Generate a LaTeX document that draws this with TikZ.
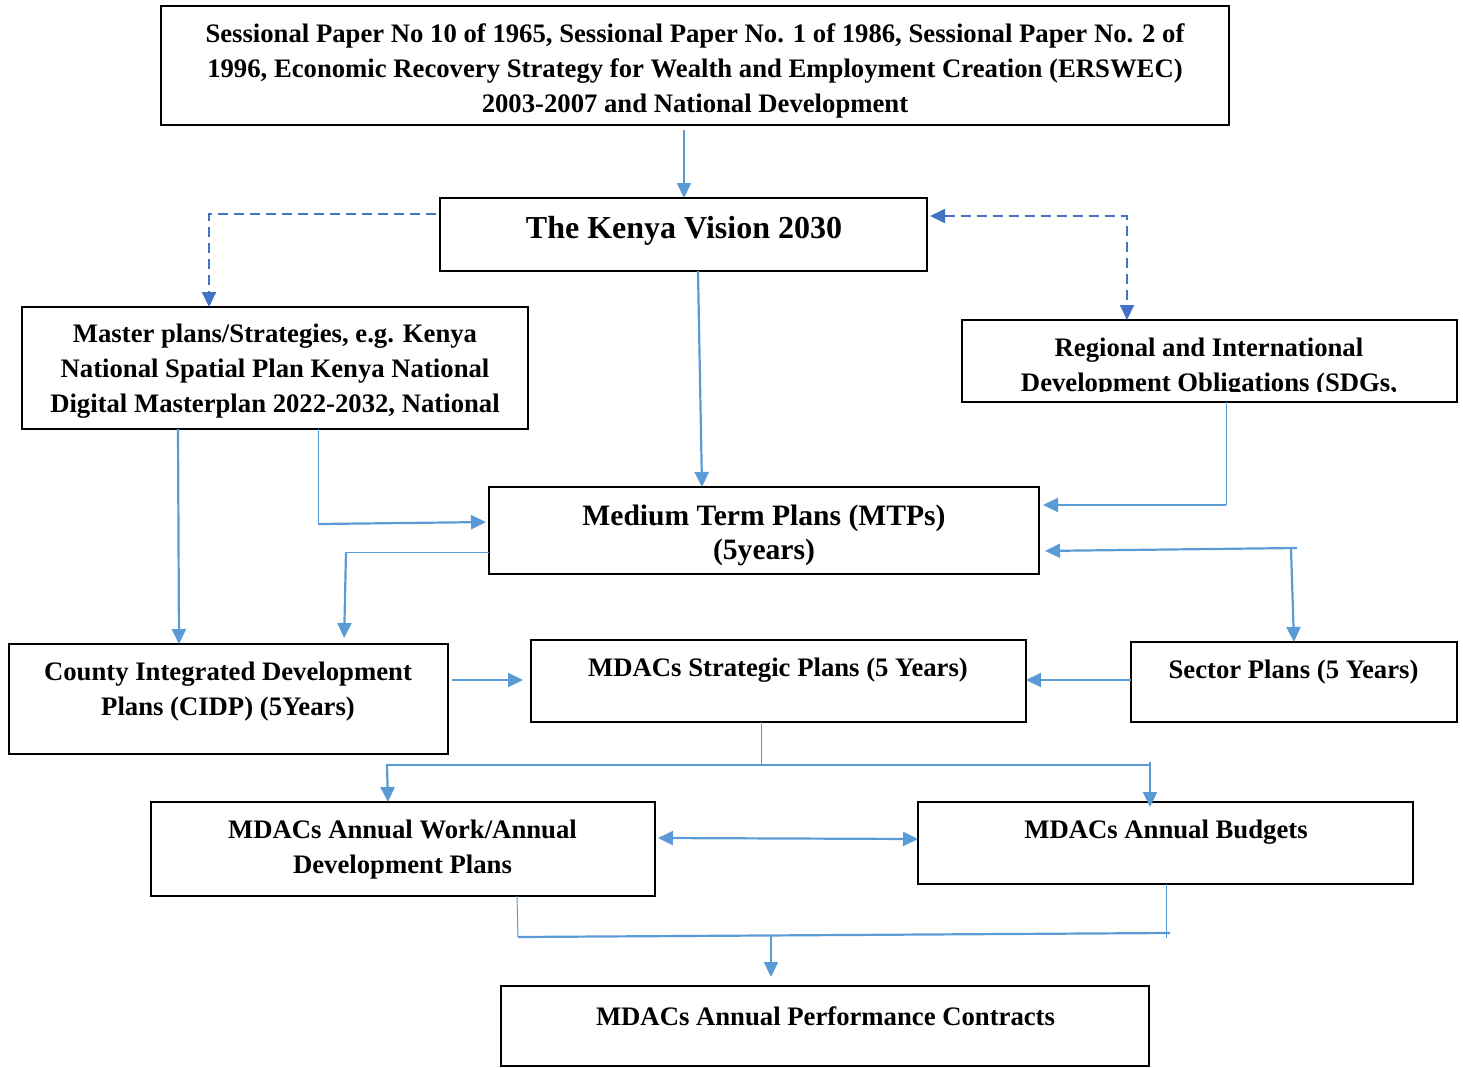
\documentclass[tikz,border=0pt]{standalone}
\usepackage{fontspec}
\setmainfont{Liberation Serif}
\usetikzlibrary{arrows.meta}
\definecolor{cblue}{HTML}{5B9BD5}
\definecolor{dblue}{HTML}{4472C4}
\tikzset{
  box/.style={draw=black, line width=1pt, rectangle, inner sep=0pt, outer sep=0pt},
  txt/.style={inner sep=0pt, align=center, font=\bfseries\fontsize{13.35}{17.5}\selectfont},
  conn/.style={draw=cblue, line width=1.1pt},
  thinl/.style={draw=cblue, line width=0.5pt},
  arr/.style={conn, -{Triangle[length=7.5pt,width=7pt]}},
  dashl/.style={draw=dblue, line width=1pt, dash pattern=on 5pt off 3pt},
}
\begin{document}
\begin{tikzpicture}[x=0.5pt, y=-0.5pt]
\useasboundingbox (0,0) rectangle (1463,1067);
% boxes
\node[box, minimum width=534pt, minimum height=59.5pt] (src) at (695,65.5) {};
\node[box, minimum width=243.5pt, minimum height=36.5pt] (vision) at (683.5,234.5) {};
\node[box, minimum width=253pt, minimum height=61pt] (master) at (275,368) {};
\node[box, minimum width=247.5pt, minimum height=41pt] (regional) at (1209.5,361) {};
\node[box, minimum width=275pt, minimum height=43.5pt] (mtp) at (764,530.5) {};
\node[box, minimum width=219.5pt, minimum height=55pt] (cidp) at (228.5,699) {};
\node[box, minimum width=247.5pt, minimum height=41pt] (strat) at (778.5,681) {};
\node[box, minimum width=163pt, minimum height=40pt] (sector) at (1294,682) {};
\node[box, minimum width=252pt, minimum height=47pt] (awp) at (403,849) {};
\node[box, minimum width=247.5pt, minimum height=41pt] (bud) at (1165.5,843) {};
\node[box, minimum width=324pt, minimum height=40pt] (perf) at (825,1026) {};
% texts
\node[txt] (srcT) at (695,71) {Sessional Paper No 10 of 1965, Sessional Paper No. 1 of 1986, Sessional Paper No. 2 of\\1996, Economic Recovery Strategy for Wealth and Employment Creation (ERSWEC)\\2003-2007 and National Development};
\node[txt, font=\bfseries\fontsize{16}{20}\selectfont] (visionT) at (684,231) {The Kenya Vision 2030};
\node[txt] (masterT) at (275,371) {Master plans/Strategies, e.g. Kenya\\National Spatial Plan Kenya National\\Digital Masterplan 2022-2032, National};
\begin{scope}
\clip (962,320) rectangle (1457,391);
\node[txt] (regionalT) at (1209,367.5) {Regional and International\\Development Obligations (SDGs,};
\end{scope}
\node[txt, font=\bfseries\fontsize{14.8}{17}\selectfont] (mtpT) at (764,535) {Medium Term Plans (MTPs)\\(5years)};
\node[txt] (cidpT) at (228,691.5) {County Integrated Development\\Plans (CIDP) (5Years)};
\node[txt] (stratT) at (778,670) {MDACs Strategic Plans (5 Years)};
\node[txt] (sectorT) at (1293.5,672) {Sector Plans (5 Years)};
\node[txt] (awpT) at (402.5,850) {MDACs Annual Work/Annual\\Development Plans};
\node[txt] (budT) at (1166,832) {MDACs Annual Budgets};
\node[txt] (perfT) at (825.5,1016) {MDACs Annual Performance Contracts};
% connectors
\draw[arr] (src.south -| 684,0) ++(0,5) -- (vision.north -| 684,0);
\draw[dashl, -{Triangle[length=7.5pt,width=7pt]}] (vision.west |- 0,214) ++(-4,0) -| (master.north -| 209,0);
\draw[dashl, {Triangle[length=7.5pt,width=7pt]}-{Triangle[length=7.5pt,width=7pt]}] (vision.east |- 0,216) ++(3,0) -| (regional.north -| 1127,0);
\draw[arr] (vision.south -| 698,0) -- (mtp.north -| 702,0);
% master -> mtp
\coordinate (j1) at (318,524);
\draw[thinl] (master.south -| 318,0) -- (j1);
\draw[arr, shorten >=1.5pt] (j1) -- (mtp.west |- 0,522);
% master -> cidp
\draw[arr] (master.south -| 178,0) -- (cidp.north -| 179,0);
% mtp -> cidp
\coordinate (j2) at (346,552);
\draw[thinl] (mtp.west |- 0,552) -- (j2);
\draw[arr, shorten >=3pt] (j2) -- (cidp.north -| 344,0);
% regional -> mtp
\coordinate (j3) at (1226,505);
\draw[thinl] (regional.south -| 1226,0) -- (j3);
\draw[arr, shorten >=2pt] (j3) -- (mtp.east |- 0,505);
% sector <-> mtp
\coordinate (j4) at (1297,548);
\draw[arr, shorten >=3pt] (j4) -- (mtp.east |- 0,551);
\draw[arr] (1291,549) -- (sector.north -| 1294,0);
% cidp -> strat
\draw[arr, shorten >=4pt] (cidp.east |- 0,680) ++(4,0) -- (strat.west |- 0,680);
% sector -> strat
\draw[arr] (sector.west |- 0,680) -- (strat.east |- 0,680);
% strat -> awp, bud
\coordinate (j5) at (761,766);
\coordinate (j6) at (386,765);
\coordinate (j7) at (1150,765);
\draw[thinl] (strat.south -| 761,0) -- (j5);
\draw[conn] (j6) -- (j7);
\draw[arr] (387,765) -- (awp.north -| 388,0);
\draw[arr] (1150,762) -- ([yshift=-2.5pt]bud.north -| 1150,0);
% awp <-> bud
\draw[conn, {Triangle[length=7.5pt,width=7pt]}-{Triangle[length=7.5pt,width=7pt]}] (awp.east |- 0,838) ++(3,0) -- (bud.west |- 0,839);
% awp, bud -> perf
\coordinate (j8) at (518,937);
\coordinate (j9) at (1170,933);
\draw[thinl] (awp.south -| 517,0) -- (j8);
\draw[thinl] (bud.south -| 1166,0) -- (1166,938);
\draw[conn] (j8) -- (j9);
\draw[arr, shorten >=4.5pt] (771,935) -- (perf.north -| 771,0);
\end{tikzpicture}
\end{document}
